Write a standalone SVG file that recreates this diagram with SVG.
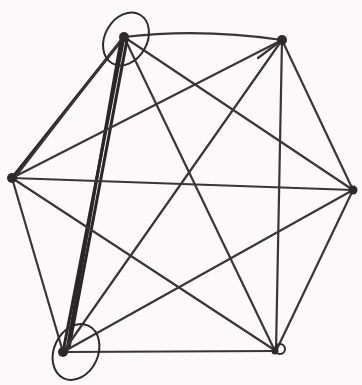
<svg xmlns="http://www.w3.org/2000/svg" width="362" height="385" viewBox="0 0 362 385">
<style>
.e{fill:none;stroke:#3a3536;stroke-width:2.2;stroke-linecap:round}
.t{fill:none;stroke:#2a2627;stroke-width:3;stroke-linecap:round}
.v{fill:#2e2a2b}
.ring{fill:none;stroke:#2e2a2b;stroke-width:2}
</style>
<rect width="362" height="385" fill="#fbf9fa"/>
<g id="connectors">
<path class="e" d="M124,37 Q200,28 282,40"/>
<path class="e" d="M124,37 L353,190"/>
<path class="e" d="M124,37 L275,351"/>
<path class="t" d="M124,37 L63,352"/>
<path class="t" d="M121,40 L67,350"/>
<path class="t" d="M127,40 L69,348"/>
<path class="t" d="M124,37 L12,178"/>
<path class="e" d="M118,44 L16,176"/>
<path class="e" d="M282,40 L353,190"/>
<path class="e" d="M282,40 L276,351"/>
<path class="e" d="M282,40 L63,352"/>
<path class="e" d="M282,40 L12,178"/>
<path class="e" d="M282,40 L258,58"/>
<path class="e" d="M353,190 L276,351"/>
<path class="e" d="M353,190 L63,352"/>
<path class="e" d="M353,190 L12,178"/>
<path class="e" d="M276,351 L63,352"/>
<path class="e" d="M276,351 L12,178"/>
<path class="e" d="M63,352 L12,178"/>
</g>
<g id="node-a">
<circle class="v" cx="124" cy="37" r="5"/>
<ellipse class="ring" cx="126" cy="39" rx="21" ry="28" transform="rotate(30 126 39)"/>
</g>
<g id="node-b"><circle class="v" cx="282" cy="40" r="5"/></g>
<g id="node-c"><circle class="v" cx="353" cy="190" r="4.5"/></g>
<g id="node-d">
<circle class="v" cx="275" cy="351" r="3.5"/>
<circle class="ring" cx="280" cy="349" r="5" stroke-width="1.5"/>
</g>
<g id="node-e">
<circle class="v" cx="63" cy="352" r="5"/>
<ellipse class="ring" cx="76" cy="352" rx="22" ry="29" transform="rotate(25 76 352)"/>
</g>
<g id="node-f"><circle class="v" cx="12" cy="178" r="5"/></g>
</svg>
